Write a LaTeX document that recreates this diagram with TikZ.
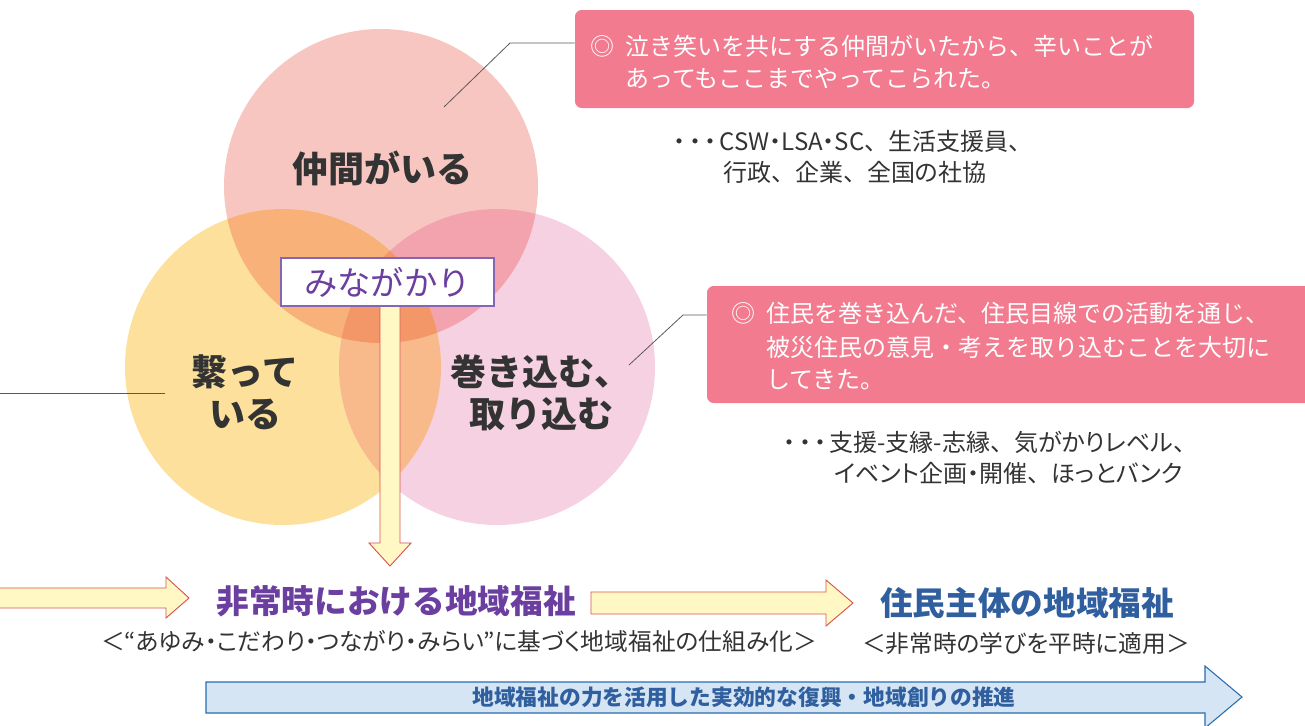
\documentclass[tikz,border=0pt]{standalone}
\usepackage{fontspec}
\setmainfont{Noto Sans CJK JP}
\newfontfamily\pfont[RawFeature=+palt]{Noto Sans CJK JP}
\newcommand\tten{{\normalfont 、}}
\newcommand\leaddots{{\normalfont\makebox[11.5pt]{・}\makebox[11.5pt]{・}\makebox[11.5pt]{・}}\hspace{1pt}}
\usetikzlibrary{fit,calc}
\definecolor{cT}{HTML}{F8C6C1}
\definecolor{cL}{HTML}{FDE09B}
\definecolor{cR}{HTML}{F6D1E1}
\definecolor{cTL}{HTML}{F7B179}
\definecolor{cTR}{HTML}{F2A3AD}
\definecolor{cLR}{HTML}{F9BA8B}
\definecolor{cTLR}{HTML}{F39769}
\definecolor{cpink}{HTML}{F27B8F}
\definecolor{cpurple}{HTML}{6B3FA0}
\definecolor{cboxline}{HTML}{8466B5}
\definecolor{cblue}{HTML}{2F5F9F}
\definecolor{ctxt}{HTML}{333333}
\definecolor{yfill}{HTML}{FFF8C4}
\definecolor{ydraw}{HTML}{D9534F}
\definecolor{bfill}{HTML}{D5E5F4}
\definecolor{bdraw}{HTML}{2B6CB0}
\tikzset{
  circlabel/.style={font=\fontsize{27}{29}\selectfont\bfseries, text=ctxt, inner sep=0},
  heading/.style={font=\fontsize{24.5}{26}\selectfont\bfseries, inner sep=0},
  subtext/.style={font=\pfont\fontsize{17.8}{19}\selectfont, text=ctxt, inner sep=0},
  cotext/.style={font=\fontsize{18}{20}\selectfont, text=white, anchor=west, inner sep=0},
  notetext/.style={font=\pfont\fontsize{18}{20}\selectfont, text=ctxt, anchor=west, inner sep=0},
  calloutbox/.style={fill=cpink, rounded corners=5pt, inner sep=0},
  leader/.style={draw=black!65, line width=0.6pt},
  yarrow/.style={fill=yfill, draw=ydraw, line width=0.7pt, line join=miter},
  barrow/.style={fill=bfill, draw=bdraw, line width=0.8pt, line join=miter},
}
\begin{document}
\begin{tikzpicture}[x=0.75pt,y=-0.75pt]
\useasboundingbox (0,0) rectangle (1305,725);

% ---- circles ----
\fill[cT] (381,186) circle[radius=157];
\fill[cL] (283,367) circle[radius=158];
\fill[cR] (497,367) circle[radius=158];
\begin{scope}
  \clip (381,186) circle[radius=157];
  \fill[cTL] (283,367) circle[radius=158];
  \fill[cTR] (497,367) circle[radius=158];
\end{scope}
\begin{scope}
  \clip (283,367) circle[radius=158];
  \fill[cLR] (497,367) circle[radius=158];
\end{scope}
\begin{scope}
  \clip (381,186) circle[radius=157];
  \clip (283,367) circle[radius=158];
  \fill[cTLR] (497,367) circle[radius=158];
\end{scope}

% ---- circle labels ----
\node[circlabel] (nakama) at (382,168) {仲間がいる};
\node[circlabel] (tsuna1) at (245,372) {繋って};
\node[circlabel] (tsuna2) at (245,414) {いる};
\node[circlabel] (maki1) at (540,372) {巻き込む、};
\node[circlabel] (maki2) at (541,414) {取り込む};

% ---- vertical arrow from minagakari ----
\coordinate (va) at (390,306);
\draw[yarrow] ($(va)+(-10,0)$) -- ($(va)+(10,0)$) -- ($(va)+(10,237)$) -- ($(va)+(21,237)$)
  -- ($(va)+(0,260)$) -- ($(va)+(-21,237)$) -- ($(va)+(-10,237)$) -- cycle;

% ---- minagakari box ----
\node[draw=cboxline, line width=0.8pt, fill=white, minimum width=159.75pt, minimum height=36pt,
      inner sep=0, text=cpurple, font=\fontsize{25}{27}\selectfont] (mina) at (387.5,282) {みながかり};

% ---- left line ----
\coordinate (ll0) at (0,393);
\coordinate (ll1) at (165,393);
\draw[leader] (ll0) -- (ll1);

% ---- callout 1 ----
\coordinate (c1a) at (575,10);
\coordinate (c1b) at (1194,108);
\node[calloutbox, fit=(c1a)(c1b)] (c1) {};
\node[cotext] (c1m) at (590,46) {◎};
\node[cotext] (c1l1) at (625,46) {泣き笑いを共にする仲間がいたから、辛いことが};
\node[cotext] (c1l2) at (625,79) {あってもここまでやってこられた。};
\coordinate (l1a) at (444,107);
\coordinate (l1b) at (510,43);
\draw[leader] (l1a) -- (l1b) -- (l1b -| c1.west);
\node[notetext] (n1a) at (672,141) {\leaddots CSW・LSA・SC\tten 生活支援員\tten};
\node[notetext] (n1b) at (723,172) {行政\tten 企業\tten 全国の社協};

% ---- callout 2 ----
\coordinate (c2a) at (707,286);
\coordinate (c2b) at (1312,403);
\node[calloutbox, fit=(c2a)(c2b)] (c2) {};
\node[cotext] (c2m) at (731,313) {◎};
\node[cotext] (c2l1) at (766,313) {住民を巻き込んだ、住民目線での活動を通じ、};
\node[cotext] (c2l2) at (766,347) {被災住民の意見・考えを取り込むことを大切に};
\node[cotext] (c2l3) at (766,380) {してきた。};
\coordinate (l2a) at (629,365);
\coordinate (l2b) at (683,315);
\draw[leader] (l2a) -- (l2b) -- (l2b -| c2.west);
\node[notetext] (n2a) at (782,442) {\leaddots 支援-支縁-志縁\tten 気がかりレベル\tten};
\node[notetext] (n2b) at (834,473) {イベント企画・開催\tten ほっとバンク};

% ---- headings ----
\node[heading, text=cpurple] (h1) at (396,601) {非常時における地域福祉};
\node[heading, text=cblue] (h2) at (1027,603) {住民主体の地域福祉};
\node[subtext] (s1) at (459,641) {＜“あゆみ・こだわり・つながり・みらい”に基づく地域福祉の仕組み化＞};
\node[subtext] (s2) at (1026,644) {＜非常時の学びを平時に適用＞};

% ---- left arrow ----
\coordinate (la) at (-5,598);
\coordinate (lt) at (189,598);
\draw[yarrow] (la |- 0,588) -- (166,588) -- (166,577) -- (lt) -- (166,618) -- (166,608) -- (la |- 0,608);

% ---- middle arrow ----
\coordinate (ms) at (591,603);
\coordinate (mt) at (853,603);
\draw[yarrow] (ms |- 0,592) -- (826,592) -- (826,580) -- (mt) -- (826,626) -- (826,614) -- (ms |- 0,614) -- cycle;

% ---- bottom blue arrow ----
\coordinate (ba) at (206,697);
\coordinate (bt) at (1242,697);
\draw[barrow] (ba |- 0,682) -- (1205,682) -- (1205,666) -- (bt) -- (1205,728) -- (1205,713) -- (ba |- 0,713) -- cycle;
\node[font=\fontsize{16.3}{18}\selectfont\bfseries, text=cblue, inner sep=0] (bl) at (744,697) {地域福祉の力を活用した実効的な復興・地域創りの推進};

\end{tikzpicture}
\end{document}
